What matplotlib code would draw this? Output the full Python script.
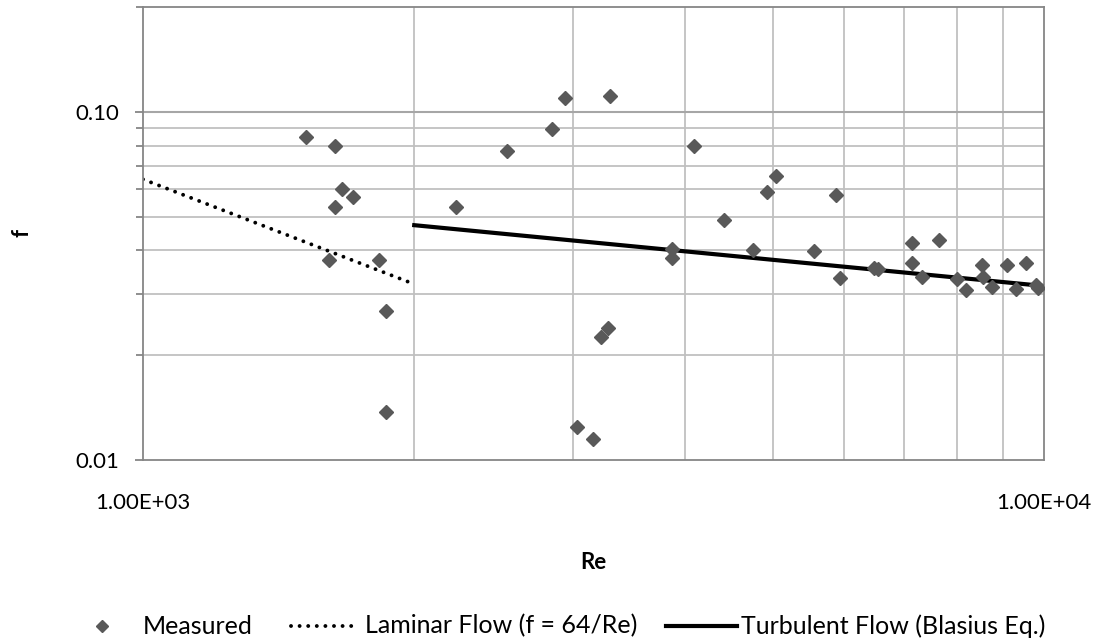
import numpy as np
import matplotlib
matplotlib.use('Agg')
import matplotlib.pyplot as plt
from matplotlib.ticker import FixedLocator, NullFormatter, FixedFormatter
from matplotlib.lines import Line2D

plt.rcParams['font.family'] = ['Lato', 'DejaVu Sans']

# measured Reynolds number / friction factor pairs
re_meas = [1516, 1634, 1664, 1709, 1634, 1610, 1826, 1862, 1860,
           2227, 2533, 2842, 2943, 3299, 3034, 3160, 3221, 3280,
           3862, 3862, 4085, 4410, 4750, 4923, 5040, 5555, 5876,
           5941, 6480, 6540, 7134, 7134, 7330, 7645, 8006, 8200,
           8536, 8550, 8763, 9090, 9303, 9544, 9790, 9840]
f_meas = [0.0844, 0.0798, 0.0601, 0.0570, 0.0533, 0.0376, 0.0376, 0.0268, 0.01371,
          0.0533, 0.0774, 0.0895, 0.1095, 0.1112, 0.01247, 0.01149, 0.02262, 0.0239,
          0.0404, 0.0380, 0.0800, 0.0489, 0.0401, 0.0588, 0.0656, 0.0398, 0.0578,
          0.0333, 0.0357, 0.0354, 0.0420, 0.0368, 0.0336, 0.0428, 0.0332, 0.0307,
          0.0364, 0.0336, 0.03135, 0.0363, 0.0309, 0.0369, 0.0318, 0.0312]

# theoretical curves
re_lam = [1000, 2000]
re_turb = [2000, 10000]
f_lam = [64.0 / r for r in re_lam]
f_turb = [0.316 / r ** 0.25 for r in re_turb]

W, H = 1100, 643
fig = plt.figure(figsize=(W / 100, H / 100), dpi=100)
ax = fig.add_axes([143 / W, 1 - 460 / H, 901 / W, 453 / H])

ax.set_xscale('log')
ax.set_yscale('log')
ax.set_xlim(1000, 10000)
ax.set_ylim(0.01, 0.2)

grid_c = '#c0c0c0'
x_grid = [2000, 3000, 4000, 5000, 6000, 7000, 8000, 9000]
y_grid = [0.02, 0.03, 0.04, 0.05, 0.06, 0.07, 0.08, 0.09]
for xv in x_grid:
    ax.axvline(xv, color=grid_c, lw=1.3, zorder=0)
for yv in y_grid:
    ax.axhline(yv, color=grid_c, lw=1.3, zorder=0)
ax.axhline(0.1, color='#a6a6a6', lw=1.5, zorder=0)

dots = (0, (0.01, 2.2))
ax.plot(re_lam, f_lam, color='black', lw=2.8, linestyle=dots,
        dash_capstyle='round', zorder=2)
ax.plot(re_turb, f_turb, color='black', lw=3.0, zorder=2)
ax.plot(re_meas, f_meas, linestyle='none', marker='D', markersize=7,
        color='#595959', zorder=3)

for s in ax.spines.values():
    s.set_color('#868686')
    s.set_linewidth(1.3)

ax.xaxis.set_major_locator(FixedLocator([1000, 10000]))
ax.xaxis.set_major_formatter(FixedFormatter(['1.00E+03', '1.00E+04']))
ax.xaxis.set_minor_locator(FixedLocator([]))
ax.xaxis.set_minor_formatter(NullFormatter())
ax.yaxis.set_major_locator(FixedLocator([0.01, 0.1]))
ax.yaxis.set_major_formatter(FixedFormatter(['0.01', '0.10']))
ax.yaxis.set_minor_locator(FixedLocator([0.02, 0.03, 0.04, 0.05, 0.06, 0.07, 0.08, 0.09, 0.2]))
ax.yaxis.set_minor_formatter(NullFormatter())
ax.tick_params(axis='y', which='major', length=6, width=1.3, color='#868686',
               labelsize=16, labelcolor='black', pad=11)
ax.tick_params(axis='y', which='minor', length=5, width=1.3, color='#868686')
ax.tick_params(axis='x', which='major', length=0, labelsize=16,
               labelcolor='black', pad=24)

ax.set_xlabel('Re', fontsize=16, fontweight='bold', labelpad=28)
fig.text(22 / W, 1 - 233 / H, 'f', fontsize=16, fontweight='bold',
         rotation=90, ha='center', va='center')

# legend row drawn by hand along the bottom
ly = 1 - 626 / H
fig.add_artist(Line2D([102 / W], [ly], linestyle='none', marker='D', markersize=6,
                      color='#595959', transform=fig.transFigure))
fig.add_artist(Line2D([291 / W, 358 / W], [ly, ly], color='black', lw=2.8,
                      linestyle=dots, dash_capstyle='round', transform=fig.transFigure))
fig.add_artist(Line2D([666 / W, 737 / W], [ly, ly], color='black', lw=3.0,
                      transform=fig.transFigure))
leg_labels = ['Measured', 'Laminar Flow (f = 64/Re)', 'Turbulent Flow (Blasius Eq.)']
leg_x = [143, 365, 741]
for lx, txt in zip(leg_x, leg_labels):
    fig.text(lx / W, ly, txt, fontsize=18, ha='left', va='center')

fig.savefig('out.png', dpi=100)
